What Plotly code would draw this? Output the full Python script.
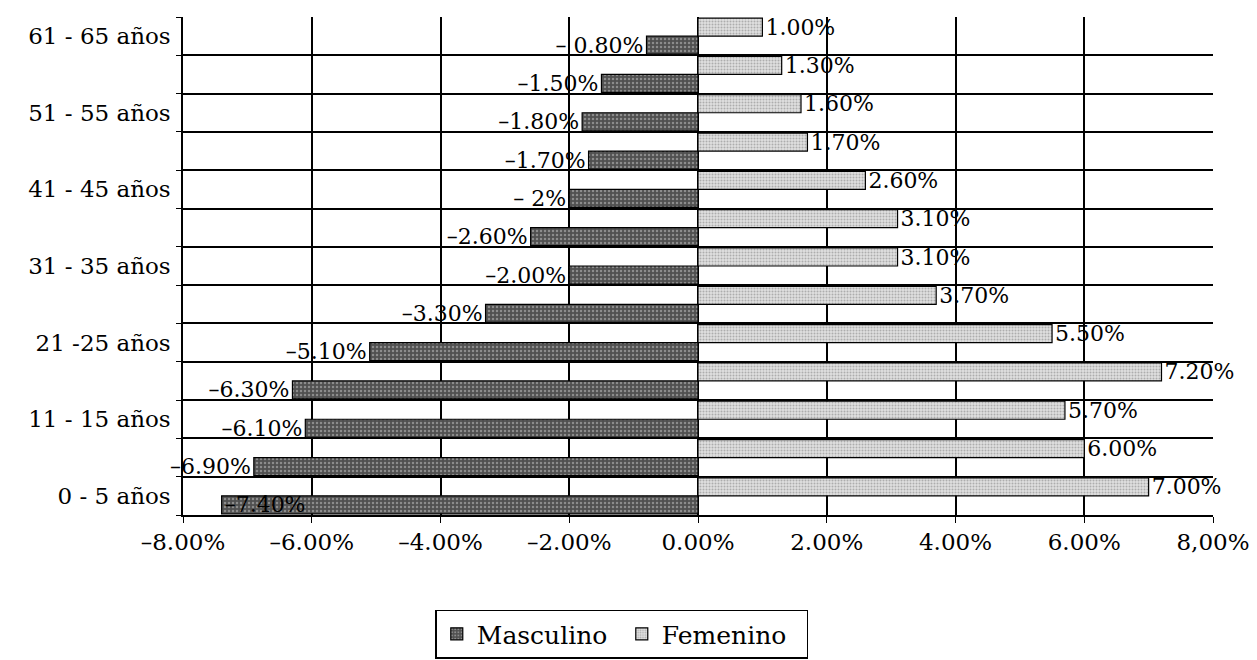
import plotly.graph_objects as go

categories = ["0 - 5 años", "6 - 10 años", "11 - 15 años", "16 - 20 años", "21 -25 años",
              "26 - 30 años", "31 - 35 años", "36 - 40 años", "41 - 45 años", "46 - 50 años",
              "51 - 55 años", "56 - 60 años", "61 - 65 años"]
masculino = [-7.40, -6.90, -6.10, -6.30, -5.10, -3.30, -2.00, -2.60, -2.0, -1.70, -1.80, -1.50, -0.80]
femenino = [7.00, 6.00, 5.70, 7.20, 5.50, 3.70, 3.10, 3.10, 2.60, 1.70, 1.60, 1.30, 1.00]
masc_labels = ["–7.40%", "–6.90%", "–6.10%", "–6.30%", "–5.10%", "–3.30%", "–2.00%",
               "–2.60%", "– 2%", "–1.70%", "–1.80%", "–1.50%", "– 0.80%"]
fem_labels = ["7.00%", "6.00%", "5.70%", "7.20%", "5.50%", "3.70%", "3.10%",
              "3.10%", "2.60%", "1.70%", "1.60%", "1.30%", "1.00%"]
shown_ticks = ["0 - 5 años", "11 - 15 años", "21 -25 años", "31 - 35 años",
               "41 - 45 años", "51 - 55 años", "61 - 65 años"]
x_tickvals = [-8, -6, -4, -2, 0, 2, 4, 6, 8]
x_ticktext = ["–8.00%", "–6.00%", "–4.00%", "–2.00%", "0.00%", "2.00%", "4.00%", "6.00%", "8,00%"]

FONT = "DejaVu Serif"
XMIN = x_tickvals[0]

# label position: inside the bar tip when the bar almost reaches the axis edge
masc_pos = ["inside" if v - XMIN < 1.0 else "outside" for v in masculino]

fig = go.Figure()
fig.add_trace(go.Bar(
    y=categories, x=masculino, orientation="h", name="Masculino",
    text=masc_labels, textposition=masc_pos, insidetextanchor="end",
    constraintext="none", cliponaxis=False,
    textfont=dict(family=FONT, size=22, color="black"),
    insidetextfont=dict(family=FONT, size=22, color="black"),
    outsidetextfont=dict(family=FONT, size=22, color="black"),
    marker=dict(color="#6e6e6e", line=dict(color="black", width=1.2),
                pattern=dict(shape=".", fgcolor="#c8c8c8", bgcolor="#505050", size=4, solidity=0.3)),
))
fig.add_trace(go.Bar(
    y=categories, x=femenino, orientation="h", name="Femenino",
    text=fem_labels, textposition="outside", constraintext="none", cliponaxis=False,
    textfont=dict(family=FONT, size=22, color="black"),
    outsidetextfont=dict(family=FONT, size=22, color="black"),
    marker=dict(color="#c4c4c4", line=dict(color="black", width=1.2),
                pattern=dict(shape=".", fgcolor="#7a7a7a", bgcolor="#e0e0e0", size=3, solidity=0.35)),
))

fig.update_layout(
    width=1257, height=660,
    margin=dict(l=175, r=52, t=9, b=141),
    paper_bgcolor="white", plot_bgcolor="white",
    barmode="group", bargap=0.06, bargroupgap=0.0,
    font=dict(family=FONT, size=23, color="black"),
    showlegend=True,
    legend=dict(orientation="h", x=0.426, xanchor="center", y=-0.19, yanchor="top",
                bordercolor="black", borderwidth=1.5, bgcolor="white",
                font=dict(family=FONT, size=25), itemwidth=30,
                entrywidthmode="pixels", entrywidth=140),
    xaxis=dict(range=[-8, 8], tickvals=x_tickvals, ticktext=x_ticktext,
               showgrid=True, gridcolor="black", gridwidth=1.5,
               zeroline=True, zerolinecolor="black", zerolinewidth=1.5,
               showline=True, linecolor="black", linewidth=1.5,
               ticks="outside", ticklen=6, tickcolor="black",
               tickfont=dict(family=FONT, size=23)),
    yaxis=dict(type="category", categoryorder="array", categoryarray=categories,
               tickmode="array", tickvals=categories,
               ticktext=[c if c in shown_ticks else "" for c in categories],
               tickson="boundaries", showgrid=True, gridcolor="black", gridwidth=1.5,
               showline=True, linecolor="black", linewidth=1.5,
               ticks="outside", ticklen=5, tickcolor="black", ticklabelstandoff=6,
               tickfont=dict(family=FONT, size=23)),
)

fig.write_html("out.html")
